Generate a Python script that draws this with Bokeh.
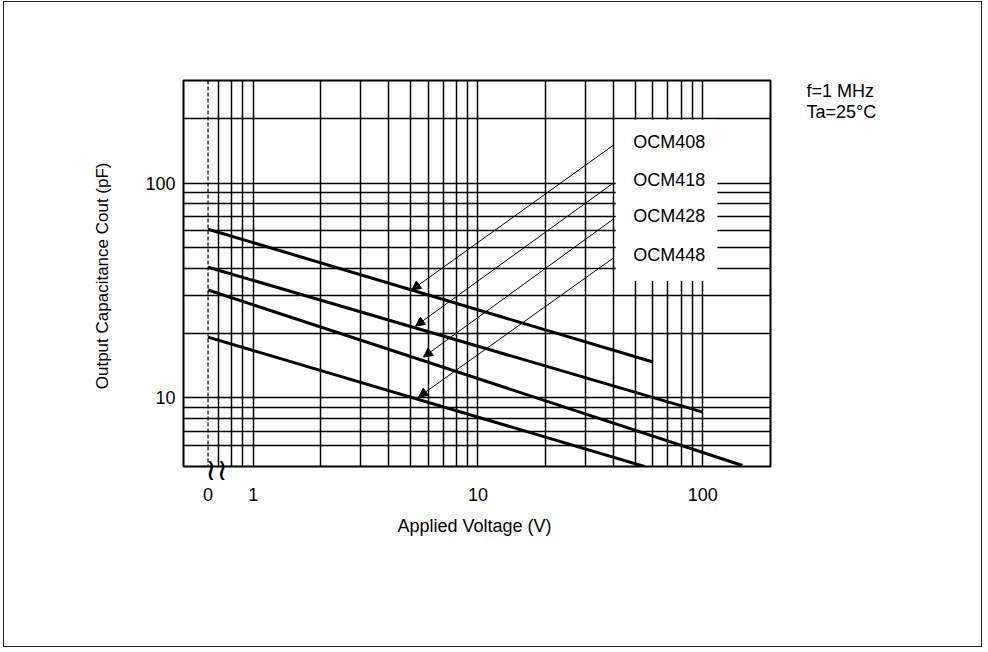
from bokeh.plotting import figure
from bokeh.models import (FixedTicker, Arrow, NormalHead, Span, ColumnDataSource,
                          BasicTickFormatter, LogAxis)
from bokeh.core.properties import value
from bokeh.embed import file_html
from bokeh.resources import INLINE

FONT = "Liberation Sans"

# ---- data ----
models = ["OCM408", "OCM418", "OCM428", "OCM448"]
voltage_ocm408 = [0, 60]
cout_ocm408 = [61, 14.7]
voltage_ocm418 = [0, 100]
cout_ocm418 = [40.6, 8.6]
voltage_ocm428 = [0, 150]
cout_ocm428 = [31.8, 4.85]
voltage_ocm448 = [0, 55]
cout_ocm448 = [19.2, 4.8]

# leader arrows: from the label column to each curve
arrow_from_v = [40, 40, 40, 40]
arrow_from_c = [150, 100, 68, 44.8]
arrow_to_v = [5.07, 5.28, 5.72, 5.44]
arrow_to_c = [31.8, 21.6, 15.5, 10.1]

x_tick_values = [0, 1, 10, 100]
x_tick_labels = ["0", "1", "10", "100"]
y_tick_values = [10, 100]
y_tick_labels = ["10", "100"]
x_grid_values = [0.7, 0.8, 0.9, 1, 2, 3, 4, 5, 6, 7, 8, 9, 10,
                 20, 30, 40, 50, 60, 70, 80, 90, 100]
y_grid_values = [6, 7, 8, 9, 10, 20, 30, 40, 50, 60, 70, 80, 90, 100, 200]
conditions = ["f=1 MHz", "Ta=25°C"]
conditions_at_c = [268, 215]

# 0 V is drawn on the broken log axis at this position
ZERO_AT = 0.63
BREAK_AT = 0.687


def xpos(vals):
    return [ZERO_AT if v == 0 else v for v in vals]


p = figure(width=979, height=646, x_axis_type="log", y_axis_type="log",
           x_range=(0.49, 200), y_range=(4.8, 300),
           output_backend="svg", toolbar_location=None,
           min_border_left=179, min_border_right=213,
           min_border_top=78, min_border_bottom=182,
           background_fill_color="white", border_fill_color="white")
p.styles = {"border": "1px solid #222", "margin-left": "3px", "margin-top": "1px"}

p.outline_line_color = "black"
p.outline_line_width = 2

# grid
p.xgrid.ticker = FixedTicker(ticks=x_grid_values)
p.ygrid.ticker = FixedTicker(ticks=y_grid_values)
for g in (p.xgrid, p.ygrid):
    g.grid_line_color = "black"
    g.grid_line_width = 1.5
p.add_layout(Span(location=ZERO_AT, dimension="height", line_color="black",
                  line_width=1.2, line_dash="4 2", level="underlay"))

main_x = p.xaxis[0]
main_y = p.yaxis[0]

# axes
main_x.ticker = FixedTicker(ticks=xpos(x_tick_values), minor_ticks=[])
main_x.formatter = BasicTickFormatter()
main_x.major_label_overrides = {t: l for t, l in zip(xpos(x_tick_values), x_tick_labels)}
main_y.ticker = FixedTicker(ticks=y_tick_values, minor_ticks=[])
main_y.formatter = BasicTickFormatter()
main_y.major_label_overrides = {t: l for t, l in zip(y_tick_values, y_tick_labels)}


def plain(ax):
    ax.axis_line_color = None
    ax.major_tick_out = 0
    ax.major_tick_in = 0
    ax.minor_tick_out = 0
    ax.minor_tick_in = 0
    ax.major_label_text_font = FONT
    ax.major_label_text_font_size = "18px"
    ax.major_label_text_color = "black"
    ax.axis_label_text_font = FONT
    ax.axis_label_text_font_style = "normal"
    ax.axis_label_text_color = "black"


plain(main_x)
plain(main_y)
main_x.axis_label = "Applied Voltage  (V)"
main_y.axis_label = "Output Capacitance  Cout (pF)"
main_x.axis_label_text_font_size = "18px"
main_y.axis_label_text_font_size = "17px"
main_x.major_label_standoff = -2
main_y.major_label_standoff = 8
main_x.axis_label_standoff = 12
main_y.axis_label_standoff = 30

# axis-break mark just under the frame
break_axis = LogAxis(ticker=FixedTicker(ticks=[BREAK_AT], minor_ticks=[]),
                     formatter=BasicTickFormatter(),
                     major_label_overrides={BREAK_AT: "≀≀"})
plain(break_axis)
break_axis.major_label_text_font = "DejaVu Sans"
break_axis.major_label_text_font_size = "30px"
break_axis.major_label_standoff = -15
p.below = [break_axis] + list(p.below)

# test conditions on the right
cond_axis = LogAxis(ticker=FixedTicker(ticks=conditions_at_c, minor_ticks=[]),
                    formatter=BasicTickFormatter(),
                    major_label_overrides={c: t for c, t in zip(conditions_at_c, conditions)})
plain(cond_axis)
cond_axis.major_label_standoff = 36
p.add_layout(cond_axis, "right")

# white box behind the model labels
p.quad(left=41, right=116, bottom=35, top=197, fill_color="white", line_color=None)

# curves
for v, c in ((voltage_ocm408, cout_ocm408), (voltage_ocm418, cout_ocm418),
             (voltage_ocm428, cout_ocm428), (voltage_ocm448, cout_ocm448)):
    p.line(xpos(v), c, line_color="black", line_width=3)

# leader arrows
src = ColumnDataSource(dict(x0=arrow_from_v, y0=arrow_from_c,
                            x1=arrow_to_v, y1=arrow_to_c, name=models))
p.add_layout(Arrow(source=src, x_start="x0", y_start="y0", x_end="x1", y_end="y1",
                   line_color="black", line_width=1,
                   end=NormalHead(size=9, fill_color="black", line_color="black")))
p.text(x="x0", y="y0", text="name", source=src, x_offset=20, y_offset=-3,
       text_font=value(FONT), text_font_size="18px", text_color="black",
       text_baseline="middle", text_align="left")

open("out.html", "w").write(file_html(p, INLINE))
